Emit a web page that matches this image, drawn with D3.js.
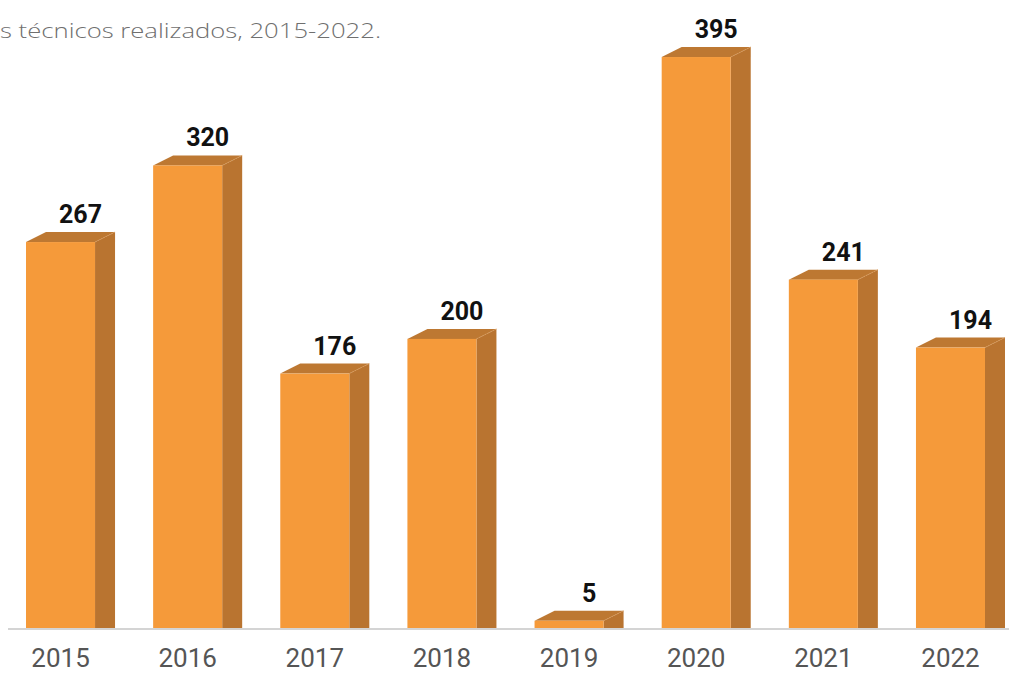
<!DOCTYPE html>
<html>
<head>
<meta charset="utf-8">
<script src="https://cdn.jsdelivr.net/npm/d3@7"></script>
<style>
  body { margin: 0; background: #fff; }
  svg { display: block; }
</style>
</head>
<body>
<svg id="chart"></svg>
<script>
const years = ["2015", "2016", "2017", "2018", "2019", "2020", "2021", "2022"];
const values = [267, 320, 176, 200, 5, 395, 241, 194];
const titleText = "s técnicos realizados, 2015-2022.";

const width = 1009, height = 675;
const depth = 20, lift = 10; // 3d offsets of the top/side faces

const svg = d3.select("#chart").attr("width", width).attr("height", height);

const data = years.map((y, i) => ({ year: y, value: values[i] }));

const x = d3.scaleBand().domain(years).range([26, 985]).paddingInner(0.457).paddingOuter(0);
const y = d3.scaleLinear().domain([0, 400]).range([628, 49.8]);

// title (cut off on the left like the original)
svg.append("text")
  .attr("x", 0)
  .attr("y", 38)
  .attr("textLength", 381)
  .attr("lengthAdjust", "spacingAndGlyphs")
  .style("font-family", "'Open Sans', Roboto, sans-serif")
  .style("font-weight", 300)
  .style("font-size", "21px")
  .style("fill", "#6f6f6f")
  .text(titleText);

const bars = svg.append("g").selectAll("g").data(data).join("g");

// side face
bars.append("path")
  .attr("d", d => {
    const x1 = x(d.year) + x.bandwidth(), y0 = y(0), y1 = y(d.value);
    return `M${x1},${y1}L${x1 + depth},${y1 - lift}L${x1 + depth},${y0}L${x1},${y0}Z`;
  })
  .attr("fill", "#b97430");

// top face
bars.append("path")
  .attr("d", d => {
    const x0 = x(d.year), x1 = x0 + x.bandwidth(), y1 = y(d.value);
    return `M${x0},${y1}L${x0 + depth},${y1 - lift}L${x1 + depth},${y1 - lift}L${x1},${y1}Z`;
  })
  .attr("fill", "#bd7832");

// light edge between top and side
bars.append("line")
  .attr("x1", d => x(d.year) + x.bandwidth())
  .attr("x2", d => x(d.year) + x.bandwidth() + depth)
  .attr("y1", d => y(d.value))
  .attr("y2", d => y(d.value) - lift)
  .attr("stroke", "#d99a5a")
  .attr("stroke-width", 0.8)
  .attr("stroke-dasharray", "2,1");

// front face
bars.append("rect")
  .attr("x", d => x(d.year))
  .attr("y", d => y(d.value))
  .attr("width", x.bandwidth())
  .attr("height", d => y(0) - y(d.value))
  .attr("fill", "#f59a3a");

// value labels
bars.append("text")
  .attr("x", d => x(d.year) + x.bandwidth() / 2 + depth)
  .attr("y", d => y(d.value) - 19)
  .attr("text-anchor", "middle")
  .style("font-family", "Roboto, 'Liberation Sans', sans-serif")
  .style("font-weight", 700)
  .style("font-size", "25px")
  .style("fill", "#111")
  .text(d => d.value);

// baseline
svg.append("line")
  .attr("x1", 8).attr("x2", width)
  .attr("y1", y(0) + 1).attr("y2", y(0) + 1)
  .attr("stroke", "#d4d4d4")
  .attr("stroke-width", 2);

// x axis labels
const xAxisG = svg.append("g")
  .attr("transform", `translate(0,${y(0) + 1})`)
  .call(d3.axisBottom(x).tickSize(0).tickPadding(20));
xAxisG.select(".domain").remove();
xAxisG.selectAll("text")
  .style("font-family", "Roboto, 'Open Sans', sans-serif")
  .style("font-size", "26px")
  .style("fill", "#555");
</script>
</body>
</html>
